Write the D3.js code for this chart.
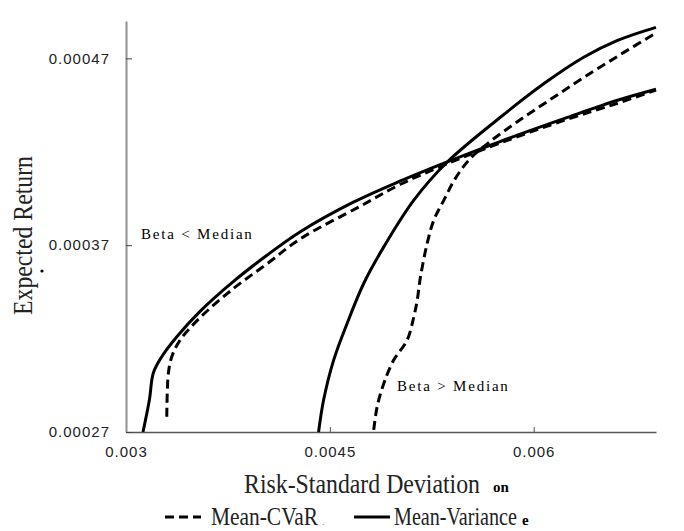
<!DOCTYPE html>
<html>
<head>
<meta charset="utf-8">
<script src="https://cdn.jsdelivr.net/npm/d3@7"></script>
<style>
  body { margin: 0; background: #fff; }
  svg { display: block; }
</style>
</head>
<body>
<div id="chart"></div>
<script>
// tick values on both axes
const xTicks = [0.003, 0.0045, 0.006];
const yTicks = [0.00027, 0.00037, 0.00047];

// beta < median, mean-variance frontier (solid)
const lowMV = [
  [0.003125, 0.00027], [0.003172, 0.0002871], [0.003201, 0.0003016], [0.003263, 0.0003103],
  [0.003374, 0.0003210], [0.003545, 0.0003346], [0.003789, 0.0003505], [0.004037, 0.0003646],
  [0.004283, 0.0003772], [0.004673, 0.0003930], [0.005020, 0.0004044], [0.005364, 0.0004146],
  [0.005757, 0.0004256], [0.006248, 0.0004384], [0.006617, 0.0004476], [0.0069, 0.0004535]
];
// beta < median, mean-CVaR frontier (dashed)
const lowCVaR = [
  [0.003300, 0.0002782], [0.003312, 0.0003016], [0.003337, 0.0003103], [0.003398, 0.0003192],
  [0.003545, 0.0003312], [0.003789, 0.0003467], [0.004037, 0.0003600], [0.004283, 0.0003734],
  [0.004725, 0.0003909], [0.005020, 0.0004026], [0.005364, 0.0004136], [0.005757, 0.0004248],
  [0.006248, 0.0004374], [0.006617, 0.0004460], [0.0069, 0.0004530]
];
// beta > median, mean-variance frontier (solid)
const highMV = [
  [0.004417, 0.00027], [0.004454, 0.0002871], [0.004528, 0.0003085], [0.004627, 0.0003281],
  [0.004749, 0.0003495], [0.004897, 0.0003691], [0.005118, 0.0003941], [0.005364, 0.0004145],
  [0.005757, 0.0004386], [0.006076, 0.0004565], [0.006371, 0.0004707], [0.006617, 0.0004796],
  [0.0069, 0.0004866]
];
// beta > median, mean-CVaR frontier (dashed)
const highCVaR = [
  [0.004823, 0.0002711], [0.004848, 0.0002835], [0.004897, 0.0002960], [0.004970, 0.0003085],
  [0.005069, 0.0003192], [0.005118, 0.0003317], [0.005143, 0.0003406], [0.005167, 0.0003531],
  [0.005216, 0.0003709], [0.005265, 0.0003834], [0.005339, 0.0003941], [0.005425, 0.0004059],
  [0.005536, 0.0004166], [0.005683, 0.0004257], [0.005880, 0.0004361], [0.006125, 0.0004481],
  [0.006371, 0.0004599], [0.006642, 0.0004722], [0.0069, 0.0004836]
];

const W = 684, H = 531;
const plot = { left: 126, right: 656, top: 21, bottom: 432 };
const serif = "'Liberation Serif', 'Times New Roman', serif";
const sans = "'Liberation Sans', Arial, sans-serif";

const svg = d3.select("#chart").append("svg")
  .attr("width", W)
  .attr("height", H);

const x = d3.scaleLinear().domain([0.003, 0.0069]).range([plot.left, plot.right]);
const y = d3.scaleLinear().domain([0.00027, 0.00049]).range([plot.bottom, plot.top]);

// x axis
const gx = svg.append("g")
  .attr("transform", "translate(0," + plot.bottom + ")")
  .call(d3.axisBottom(x).tickValues(xTicks).tickSize(-5).tickSizeOuter(0).tickPadding(14)
    .tickFormat(d => String(d)));
gx.select(".domain").attr("stroke", "#555").attr("stroke-width", 1.3);
gx.selectAll(".tick line").attr("stroke", "#555");

// y axis
const gy = svg.append("g")
  .attr("transform", "translate(" + plot.left + ",0)")
  .call(d3.axisLeft(y).tickValues(yTicks).tickSize(-6).tickSizeOuter(0).tickPadding(16)
    .tickFormat(d => String(d)));
gy.select(".domain").attr("stroke", "#8f8f8f").attr("stroke-width", 2);
gy.selectAll(".tick line").attr("stroke", "#444");

svg.selectAll(".tick text")
  .attr("font-family", sans)
  .attr("font-size", 15)
  .attr("letter-spacing", 1)
  .attr("fill", "#222");

// frontier curves
const line = d3.line()
  .x(d => x(d[0]))
  .y(d => y(d[1]))
  .curve(d3.curveCatmullRom.alpha(0.5));

const series = [
  { data: lowMV, dash: null },
  { data: lowCVaR, dash: "9,5" },
  { data: highMV, dash: null },
  { data: highCVaR, dash: "9,5" }
];

svg.append("g").selectAll("path")
  .data(series)
  .join("path")
  .attr("d", d => line(d.data))
  .attr("fill", "none")
  .attr("stroke", "#000")
  .attr("stroke-width", 3)
  .attr("stroke-dasharray", d => d.dash);

// annotations
svg.append("text")
  .attr("x", 141).attr("y", 239)
  .attr("font-family", serif).attr("font-size", 15).attr("letter-spacing", 1.8)
  .text("Beta < Median");
svg.append("text")
  .attr("x", 397).attr("y", 391)
  .attr("font-family", serif).attr("font-size", 15).attr("letter-spacing", 1.8)
  .text("Beta > Median");

// axis titles
svg.append("text")
  .attr("x", 244).attr("y", 493)
  .attr("font-family", serif).attr("font-size", 28).attr("fill", "#222")
  .attr("textLength", 236).attr("lengthAdjust", "spacingAndGlyphs")
  .text("Risk-Standard Deviation");
svg.append("text")
  .attr("x", 493).attr("y", 492)
  .attr("font-family", serif).attr("font-size", 15).attr("font-weight", "bold")
  .text("on");

svg.append("text")
  .attr("transform", "translate(32,315) rotate(-90)")
  .attr("font-family", serif).attr("font-size", 28).attr("fill", "#222")
  .attr("textLength", 159).attr("lengthAdjust", "spacingAndGlyphs")
  .text("Expected Return");
svg.append("circle")
  .attr("cx", 42).attr("cy", 271).attr("r", 1.6).attr("fill", "#000");

// legend
const legendY = 517;
const legend = [
  { label: "Mean-CVaR", dash: "9,5", x0: 165, tx: 211, tw: 107 },
  { label: "Mean-Variance", dash: null, x0: 354, tx: 394, tw: 123 }
];
const lg = svg.append("g");
lg.selectAll("line")
  .data(legend)
  .join("line")
  .attr("x1", d => d.x0).attr("x2", d => d.x0 + 36)
  .attr("y1", legendY).attr("y2", legendY)
  .attr("stroke", "#000").attr("stroke-width", 3)
  .attr("stroke-dasharray", d => d.dash);
lg.selectAll("text")
  .data(legend)
  .join("text")
  .attr("x", d => d.tx).attr("y", legendY + 8)
  .attr("font-family", serif).attr("font-size", 25).attr("fill", "#222")
  .attr("textLength", d => d.tw).attr("lengthAdjust", "spacingAndGlyphs")
  .text(d => d.label);
lg.append("text")
  .attr("x", 522).attr("y", legendY + 8)
  .attr("font-family", serif).attr("font-size", 15).attr("font-weight", "bold")
  .text("e");
lg.append("text")
  .attr("x", 322).attr("y", legendY + 8)
  .attr("font-family", serif).attr("font-size", 10).attr("fill", "#999")
  .text(".");
</script>
</body>
</html>
